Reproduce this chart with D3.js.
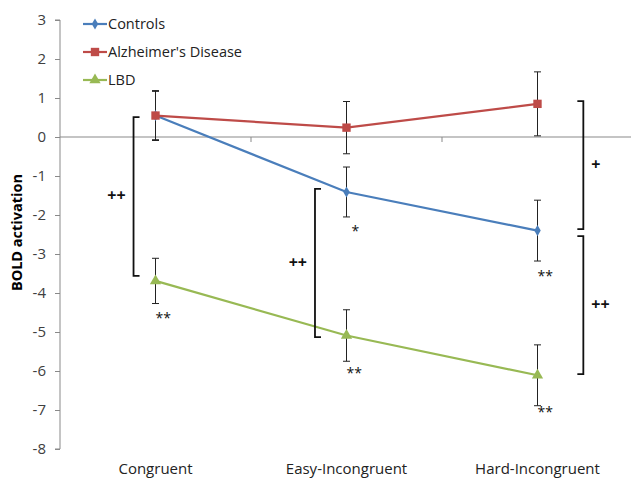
<!DOCTYPE html>
<html><head><meta charset="utf-8">
<script src="https://cdn.jsdelivr.net/npm/d3@7/dist/d3.min.js"></script>
<style>body{margin:0;background:#fff}svg{display:block}</style>
</head><body>
<script>
const categories = ["Congruent", "Easy-Incongruent", "Hard-Incongruent"];
const seriesNames = ["Controls", "Alzheimer's Disease", "LBD"];
const controls = [0.55, -1.41, -2.40];
const controlsErr = [0.62, 0.64, 0.78];
const alzheimers = [0.55, 0.24, 0.85];
const alzheimersErr = [0.64, 0.67, 0.82];
const lbd = [-3.69, -5.09, -6.11];
const lbdErr = [0.58, 0.66, 0.78];
const yTicks = [3, 2, 1, 0, -1, -2, -3, -4, -5, -6, -7, -8];
// significance stars: [category index, value position, label]
const stars = [[0, -4.55, "**"], [1, -2.3, "*"], [1, -5.95, "**"], [2, -3.45, "**"], [2, -6.95, "**"]];
// brackets: [category index, offset (fraction of band), top, bottom, side, label]
const brackets = [[0, -0.115, 0.51, -3.56, "right", "++"], [1, -0.165, -1.33, -5.13, "right", "++"],
                  [2, 0.24, 0.92, -2.36, "left", "+"], [2, 0.24, -2.54, -6.08, "left", "++"]];

const W = 631, H = 479;
const svg = d3.select("body").append("svg").attr("width", W).attr("height", H);
const x = d3.scaleBand().domain(categories).range([60, 633]);
const y = d3.scaleLinear().domain([-8, 3]).range([449, 20]);
const cx = i => x(categories[i]) + x.bandwidth() / 2;
const font = "'Open Sans', sans-serif";

// y axis
const yAxis = svg.append("g").attr("transform", "translate(60,0)")
  .call(d3.axisLeft(y).tickValues(yTicks).tickSize(5).tickPadding(4).tickFormat(d => String(d)));
yAxis.selectAll("path,line").attr("stroke", "#898989");
yAxis.select(".domain").attr("d", `M-5,${y(3)}H0V${y(-8)}H-5`);
yAxis.selectAll("text").attr("font-family", font).attr("font-size", 15).attr("fill", "#404040").attr("dx", -5);

// x axis at zero
const xAxis = svg.append("g").attr("transform", `translate(0,${y(0)})`)
  .call(d3.axisBottom(x).tickSize(0).tickFormat(""));
xAxis.select(".domain").attr("stroke", "#898989").attr("d", `M60,0H633`);
const bounds = [x(categories[1]), x(categories[2])];
xAxis.selectAll(".bound").data(bounds).enter().append("line")
  .attr("x1", d => d).attr("x2", d => d).attr("y1", 0).attr("y2", 5).attr("stroke", "#898989");

// category labels
svg.selectAll(".cat").data(categories).enter().append("text")
  .attr("x", (d, i) => cx(i)).attr("y", 473.5).attr("text-anchor", "middle")
  .attr("font-family", font).attr("font-size", 15).attr("fill", "#222").text(d => d);

// y title
svg.append("text").attr("transform", `translate(22,${y(-2.45)}) rotate(-90)`)
  .attr("text-anchor", "middle").attr("font-family", font).attr("font-weight", "bold")
  .attr("font-size", 14.5).attr("fill", "#000").text("BOLD activation");

const series = [
  {name: seriesNames[0], vals: controls, err: controlsErr, color: "#4a7ebb", sym: d3.symbolDiamond, size: 36},
  {name: seriesNames[1], vals: alzheimers, err: alzheimersErr, color: "#be4b48", sym: d3.symbolSquare, size: 70},
  {name: seriesNames[2], vals: lbd, err: lbdErr, color: "#98b954", sym: d3.symbolTriangle, size: 55}
];
const line = d3.line().x((d, i) => cx(i)).y(d => y(d));

series.forEach(s => {
  const g = svg.append("g");
  s.vals.forEach((v, i) => {
    const X = cx(i), t = y(v + s.err[i]), b = y(v - s.err[i]);
    g.append("path").attr("d", `M${X},${t}V${b}M${X-3.5},${t}H${X+3.5}M${X-3.5},${b}H${X+3.5}`)
      .attr("stroke", "#222").attr("stroke-width", 1).attr("fill", "none");
  });
});
series.forEach(s => {
  svg.append("path").attr("d", line(s.vals)).attr("fill", "none").attr("stroke", s.color).attr("stroke-width", 2.2);
  svg.selectAll(null).data(s.vals).enter().append("path")
    .attr("transform", (d, i) => `translate(${cx(i)},${y(d)})`)
    .attr("d", d3.symbol().type(s.sym).size(s.size)).attr("fill", s.color);
});

// stars
svg.selectAll(".star").data(stars).enter().append("text")
  .attr("x", d => cx(d[0]) + (d[2].length === 1 ? 5 : 0)).attr("y", d => y(d[1]) + 9)
  .attr("font-family", font).attr("font-size", 14).attr("fill", "#111").text(d => d[2]);

// brackets
brackets.forEach(b => {
  const X = cx(b[0]) + b[1] * x.bandwidth(), t = y(b[2]), bt = y(b[3]);
  const dir = b[4] === "right" ? 1 : -1;
  svg.append("path").attr("d", `M${X + 6*dir},${t}H${X}V${bt}H${X + 6*dir}`)
    .attr("fill", "none").attr("stroke", "#111").attr("stroke-width", 1.8);
  const lx = b[4] === "right" ? X - 8 : X + 8;
  svg.append("text").attr("x", lx).attr("y", (t + bt) / 2 + 5)
    .attr("text-anchor", b[4] === "right" ? "end" : "start")
    .attr("font-family", font).attr("font-weight", "bold").attr("font-size", 16).attr("fill", "#111").text(b[5]);
});

// legend
const leg = svg.append("g");
series.forEach((s, i) => {
  const ly = 24 + i * 28;
  leg.append("line").attr("x1", 83).attr("x2", 107).attr("y1", ly).attr("y2", ly).attr("stroke", s.color).attr("stroke-width", 2.2);
  leg.append("path").attr("transform", `translate(95,${ly})`).attr("d", d3.symbol().type(s.sym).size(s.size)).attr("fill", s.color);
  leg.append("text").attr("x", 108).attr("y", ly + 5).attr("font-family", font).attr("font-size", 14.5).attr("fill", "#222").text(s.name);
});
</script>
</body></html>
